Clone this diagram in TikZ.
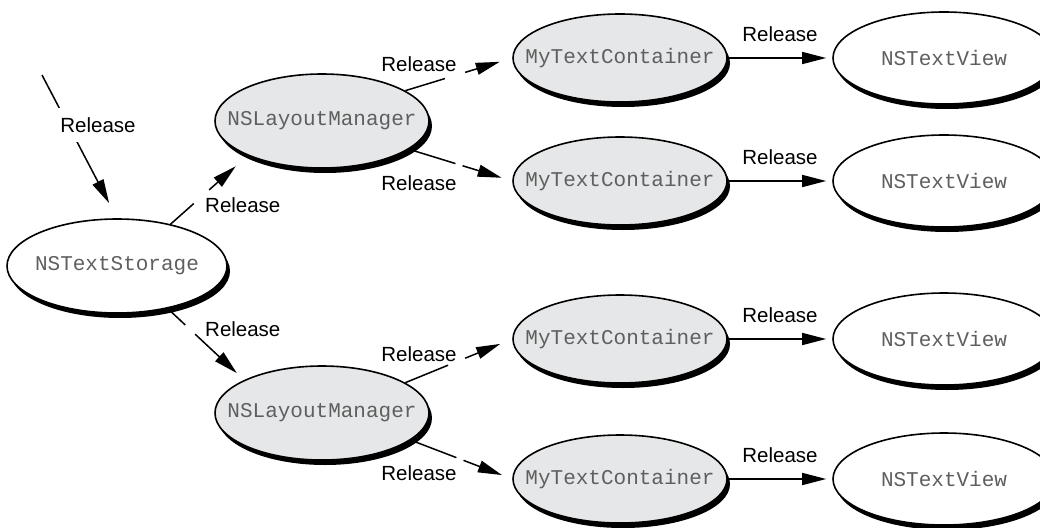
\documentclass[tikz,border=0pt]{standalone}
\usepackage{fontspec}
\setmainfont{Liberation Sans}
\newfontfamily\codefont{Liberation Mono}
\usetikzlibrary{shapes.geometric,shadows,arrows.meta,calc}

\definecolor{bubblegray}{RGB}{230,231,232}
\definecolor{codegray}{RGB}{95,95,95}

% class name set without width, so the ellipse keeps its given size
\newcommand\cls[1]{\makebox[0pt]{#1}}

% a connector interrupted by a short gap: from, to, gap start, gap end, shorten at tip
\newcommand\gapline[5]{%
  \draw[wire] (#1) -- ($(#1)!#3!(#2)$);
  \draw[conn, shorten >=#5] ($(#1)!#4!(#2)$) -- (#2);}

\begin{document}
\begin{tikzpicture}[x=1pt,y=-1pt,
  obj/.style={ellipse, draw=black, line width=1.6pt, inner sep=0pt, fill=white,
    font=\codefont\fontsize{21}{24}\selectfont, text=codegray,
    drop shadow={shadow xshift=3pt, shadow yshift=-5pt, fill=black, opacity=1}},
  shaded/.style={obj, fill=bubblegray},
  storebox/.style={minimum width=220pt, minimum height=94pt},
  layoutbox/.style={minimum width=214pt, minimum height=94pt},
  containerbox/.style={minimum width=214pt, minimum height=88pt},
  viewbox/.style={minimum width=222pt, minimum height=92pt},
  wire/.style={line width=1.5pt},
  conn/.style={wire, -{Triangle[length=24pt,width=12pt]}},
  lbl/.style={font=\fontsize{20.5}{24}\selectfont, inner sep=0pt},
]
\useasboundingbox (0,0) rectangle (1040,527);

% objects
\node[obj, storebox] (ts) at (117,266) {\cls{NSTextStorage}};
\node[shaded, layoutbox] (lm1) at (322,121) {\cls{NSLayoutManager}};
\node[shaded, layoutbox] (lm2) at (322,413) {\cls{NSLayoutManager}};

\node[shaded, containerbox] (tc1) at (620,58)  {\cls{MyTextContainer}};
\node[shaded, containerbox] (tc2) at (620,181) {\cls{MyTextContainer}};
\node[shaded, containerbox] (tc3) at (620,339) {\cls{MyTextContainer}};
\node[shaded, containerbox] (tc4) at (620,479) {\cls{MyTextContainer}};

\node[obj, viewbox] (tv1) at (944,58)  {\cls{NSTextView}};
\node[obj, viewbox] (tv2) at (944,181) {\cls{NSTextView}};
\node[obj, viewbox] (tv3) at (944,339) {\cls{NSTextView}};
\node[obj, viewbox] (tv4) at (944,479) {\cls{NSTextView}};

% incoming release
\coordinate (src) at (42,75);
\draw[conn, shorten >=17pt] (src) -- (ts.north);
\node[lbl, fill=white, inner xsep=4pt, inner ysep=9pt] (r0) at (98,125) {Release};

% storage to layout managers
\gapline{ts.38}{lm1.205}{0.3}{0.5}{16pt}
\node[lbl, anchor=west] (r1) at (205,205) {Release};
\gapline{ts.-40}{lm2.157}{0.23}{0.36}{10pt}
\node[lbl, anchor=west] (r2) at (205,329) {Release};

% layout managers to containers
\gapline{lm1.20}{tc1.west}{0.37}{0.56}{13pt}
\node[lbl] (r3) at (419,64) {Release};
\gapline{lm1.-18}{tc2.west}{0.45}{0.52}{11pt}
\node[lbl] (r4) at (419,183) {Release};
\gapline{lm2.20}{tc3.west}{0.4}{0.56}{13pt}
\node[lbl] (r5) at (419,354) {Release};
\gapline{lm2.-17}{tc4.west}{0.45}{0.52}{11pt}
\node[lbl] (r6) at (419,473) {Release};

% containers to views
\foreach \i in {1,...,4}{
  \draw[conn, shorten >=6pt] (tc\i.east) -- (tv\i.west)
    node[lbl, midway, above=16pt] (rv\i) {Release};
}
\end{tikzpicture}
\end{document}
